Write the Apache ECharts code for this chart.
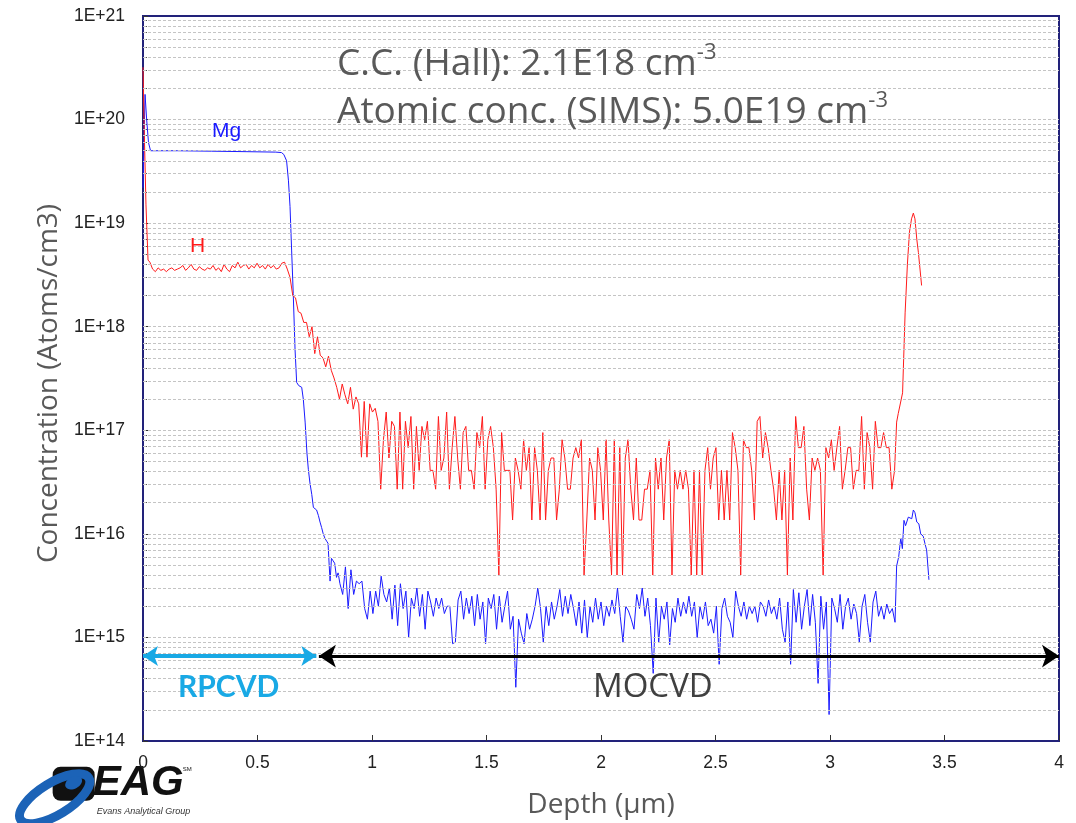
<!DOCTYPE html>
<html lang="en">

<head>
  <meta charset="UTF-8">
  <title>SIMS depth profile</title>
  <style>
    body {
      margin: 0;
      background: #fff;
    }

    #chart {
      width: 1076px;
      height: 823px;
    }
  </style>
</head>

<body>
  <div id="chart"></div>
</body>
<script src="https://cdn.jsdelivr.net/npm/echarts@6/dist/echarts.min.js"></script>
<script>
  // sampling step of the profile (um)
  var STEP = 0.012

  // ---- Mg ----
  // surface spike, plateau and fall-off, [depth um, atoms/cm3]
  var mgHead = [
    [0, 2.2e19], [0.009, 1.75e20], [0.016, 1.0e20], [0.024, 6e19], [0.033, 5.0e19],
    [0.15, 5.0e19], [0.3, 4.95e19], [0.45, 4.9e19], [0.58, 4.85e19], [0.605, 4.8e19],
    [0.615, 4.6e19], [0.627, 4.0e19], [0.635, 2.6e19], [0.642, 1.45e19], [0.649, 5.5e18],
    [0.656, 2.1e18], [0.664, 6e17], [0.671, 2.9e17], [0.680, 2.7e17], [0.693, 2.6e17],
    [0.700, 2.0e17], [0.708, 1.2e17], [0.716, 6e16], [0.722, 4.2e16], [0.729, 3.1e16],
    [0.737, 2.4e16], [0.744, 1.8e16], [0.751, 1.75e16], [0.758, 1.7e16], [0.766, 1.5e16],
    [0.773, 1.3e16], [0.780, 1.15e16], [0.787, 1.0e16], [0.795, 9e15], [0.802, 8.5e15],
    [0.808, 8.1e15], [0.813, 5e15], [0.817, 3.5e15], [0.823, 5.8e15], [0.830, 5.5e15],
    [0.837, 5.2e15], [0.845, 3.8e15], [0.852, 4.2e15]
  ]
  // background noise from 0.86 um, one value per STEP, in 1E15 atoms/cm3
  var mgNoiseStart = 0.86
  var mgNoise = [
    3.3, 2.6, 4.8, 1.9, 4.5, 2.6, 3.5, 3.3, 3.5, 1.9,
    1.5, 2.8, 1.7, 2.8, 2.0, 3.9, 2.6, 2.2, 3.0, 1.5,
    3.2, 1.3, 3.3, 1.9, 2.8, 1.0, 2.4, 1.9, 3.0, 1.6,
    2.6, 1.2, 2.8, 2.2, 1.6, 2.4, 1.9, 2.4, 1.7, 2.0,
    2.0, 0.87, 0.9, 2.3, 2.8, 1.5, 2.4, 1.7, 2.5, 1.3,
    2.6, 1.5, 2.2, 0.87, 2.4, 1.9, 2.6, 1.2, 2.5, 1.4,
    2.0, 2.8, 1.2, 1.6, 0.33, 1.5, 1.1, 0.87, 1.7, 1.2,
    1.5, 2.0, 3.0, 1.9, 0.9, 2.0, 1.3, 2.2, 1.5, 2.0,
    2.9, 1.6, 2.5, 1.7, 2.6, 1.9, 1.3, 2.2, 1.1, 2.3,
    1.0, 2.0, 1.4, 2.4, 1.5, 2.2, 1.3, 2.0, 1.6, 2.3,
    1.7, 3.0, 1.6, 0.9, 2.0, 1.8, 1.5, 1.2, 2.6, 1.9,
    3.0, 1.6, 2.4, 1.3, 0.45, 2.4, 0.9, 2.0, 1.5, 2.2,
    0.85, 1.9, 1.4, 2.4, 1.6, 2.2, 1.7, 2.5, 1.6, 2.2,
    1.0, 2.0, 1.5, 2.2, 1.3, 1.5, 1.1, 2.0, 0.55, 1.9,
    2.4, 1.6, 1.4, 1.0, 2.8, 2.0, 1.6, 2.2, 1.5, 2.0,
    1.7, 2.0, 1.4, 2.2, 2.0, 1.6, 2.3, 1.7, 2.0, 1.5,
    2.4, 1.2, 0.9, 2.2, 0.55, 2.9, 1.4, 2.7, 1.2, 2.0,
    2.9, 1.3, 2.6, 1.4, 0.36, 2.5, 1.2, 2.2, 0.18, 2.4,
    1.9, 1.4, 2.6, 1.2, 2.0, 2.4, 1.5, 2.1, 1.7, 0.9,
    2.0, 2.6, 1.4, 0.9, 2.2, 2.8, 1.6, 2.0, 1.5, 2.1,
    1.7, 1.9
  ]
  // interface pile-up at the end
  var mgTail = [
    [3.284, 1.4e15], [3.291, 4.9e15], [3.300, 6e15], [3.309, 9.1e15], [3.316, 7.2e15],
    [3.323, 1.35e16], [3.330, 1.2e16], [3.342, 1.45e16], [3.350, 1.5e16], [3.357, 1.4e16],
    [3.364, 1.7e16], [3.371, 1.6e16], [3.379, 1.3e16], [3.388, 1.25e16], [3.396, 1.0e16],
    [3.407, 9.5e15], [3.415, 8e15], [3.422, 7e15], [3.428, 7.2e15], [3.432, 3.6e15]
  ]

  // ---- H ----
  var hHead = [[0, 3.2e20], [0.006, 7e19], [0.013, 1.5e19], [0.022, 4.4e18]]
  // plateau from 0.03 um, in 1E18 atoms/cm3
  var hPlateauStart = 0.03
  var hPlateau = [
    4.2, 3.6, 3.4, 3.7, 3.5, 3.6, 3.4, 3.6, 3.7, 3.5,
    3.6, 3.7, 3.9, 3.5, 3.7, 4.0, 3.6, 3.5, 3.8, 3.6,
    3.5, 3.7, 3.6, 3.9, 3.5, 3.7, 3.4, 4.0, 3.6, 3.4,
    3.9, 3.7, 4.2, 3.7, 3.9, 4.0, 3.6, 3.9, 3.7, 4.1,
    3.7, 3.9, 3.6, 4.0, 3.7, 3.9, 3.6, 3.7, 4.1, 4.2
  ]
  // fall-off from 0.63 um
  var hDeclineStart = 0.63
  var hDecline = [
    3.6e18, 3.0e18, 2.0e18, 1.9e18, 1.4e18, 1.35e18, 1.1e18, 1.1e18, 8e17, 1.0e18,
    5.5e17, 8e17, 5.3e17, 5.0e17, 4.1e17, 5.2e17, 3.8e17, 3.2e17, 2.6e17, 2.0e17,
    2.8e17, 2.2e17, 1.8e17, 2.6e17, 1.6e17, 2.1e17, 1.8e17, 5.5e16, 1.9e17, 5.5e16,
    1.8e17
  ]
  // background from 1.002 um, in 1E16 atoms/cm3
  var hNoiseStart = 1.002
  var hNoise = [
    15, 16.3, 12.2, 2.7, 8.1, 15, 5.4, 12.2, 10.9, 2.7,
    15, 2.7, 12.2, 6.8, 13.6, 2.7, 10.9, 4.1, 10.9, 8.1,
    12.2, 4.1, 4.1, 2.7, 13.6, 4.1, 5.4, 15, 2.7, 6.8,
    13.6, 5.4, 2.7, 9.5, 10.9, 4.1, 4.1, 2.7, 9.5, 6.8,
    13.6, 2.7, 8.1, 10.9, 6.8, 2.7, 0.4, 9.5, 4.1, 4.1,
    4.1, 1.36, 5.4, 4.1, 2.7, 8.1, 4.1, 6.8, 1.36, 6.8,
    4.1, 1.36, 9.5, 1.36, 4.1, 5.4, 5.4, 1.36, 2.7, 8.1,
    5.4, 2.7, 2.7, 5.4, 6.8, 5.4, 8.1, 0.4, 1.36, 5.4,
    4.1, 1.36, 6.8, 4.1, 1.36, 8.1, 1.36, 0.4, 8.1, 0.4,
    6.8, 0.4, 5.4, 8.1, 2.7, 1.36, 5.4, 1.36, 1.36, 2.7,
    2.7, 4.1, 0.4, 5.4, 2.7, 5.4, 1.36, 5.4, 8.1, 0.4,
    4.1, 2.7, 4.1, 2.7, 4.1, 2.7, 0.4, 4.1, 0.4, 4.1,
    0.4, 4.1, 6.8, 2.7, 5.4, 6.8, 1.36, 4.1, 1.36, 4.1,
    1.36, 9.5, 6.8, 4.1, 0.4, 8.1, 6.8, 6.8, 4.1, 1.36,
    12.2, 13.6, 5.4, 9.5, 6.8, 4.1, 2.7, 1.36, 4.1, 1.36,
    4.1, 0.4, 5.4, 1.36, 13.6, 6.8, 6.8, 10.9, 2.7, 1.36,
    5.4, 4.1, 5.4, 4.1, 0.4, 6.8, 5.4, 8.1, 4.1, 6.8,
    10.9, 2.7, 4.1, 6.8, 6.8, 2.7, 4.1, 4.1, 13.6, 2.7,
    9.5, 6.8, 2.7, 12.2, 6.8, 6.8, 9.5, 6.8, 6.8, 2.7,
    4.1
  ]
  var hTail = [
    [3.291, 1.2e17], [3.298, 1.45e17], [3.317, 2.3e17], [3.328, 1.36e18], [3.338, 4e18],
    [3.347, 8.2e18], [3.356, 1.1e19], [3.364, 1.25e19], [3.371, 1.1e19], [3.379, 7e18],
    [3.386, 5.2e18], [3.400, 2.5e18]
  ]

  // layer annotations
  var arrowLevel = 6.6e14
  var rpcvdRange = [0, 0.757]
  var mocvdRange = [0.768, 4]

  var yDecades = [14, 15, 16, 17, 18, 19, 20]

  function onGrid(start, values, unit) {
    return values.map(function (v, i) {
      return [Number((start + i * STEP).toFixed(3)), v * unit]
    })
  }

  var mgData = mgHead.concat(onGrid(mgNoiseStart, mgNoise, 1e15), mgTail)
  var hData = hHead.concat(
    onGrid(hPlateauStart, hPlateau, 1e18),
    onGrid(hDeclineStart, hDecline, 1),
    onGrid(hNoiseStart, hNoise, 1e16),
    hTail
  )

  // log grid lines 1..9 x 10^n
  var gridLines = []
  yDecades.forEach(function (e) {
    for (var m = 1; m <= 9; m++) {
      if (m === 1 && e === 14) continue
      gridLines.push({ yAxis: m * Math.pow(10, e) })
    }
  })

  var chart = echarts.init(document.getElementById('chart'))
  var labelFont = 'Liberation Sans, Arial, sans-serif'
  var titleFont = 'Open Sans, sans-serif'
  var navy = '#22227a'
  var grey = '#595959'

  function noteText(left, top, main) {
    return {
      type: 'text', left: left, top: top, z: 10,
      style: {
        text: '{a|' + main + '}{s|-3}',
        rich: {
          a: { fontFamily: titleFont, fontSize: 37, fill: grey, lineHeight: 44 },
          s: { fontFamily: titleFont, fontSize: 22, fill: grey, verticalAlign: 'top' }
        }
      }
    }
  }

  var option = {
    animation: false,
    grid: {
      left: 143, right: 17, top: 16, bottom: 82,
      show: true, borderColor: navy, borderWidth: 2,
      outerBoundsMode: 'none'
    },
    xAxis: {
      type: 'value',
      min: 0, max: 4, interval: 0.5,
      name: 'Depth (µm)',
      nameLocation: 'middle',
      nameGap: 50,
      nameTextStyle: { fontFamily: titleFont, fontSize: 28, color: grey },
      axisLine: { lineStyle: { color: navy, width: 2 } },
      axisTick: { inside: true, length: 6, lineStyle: { color: '#333' } },
      axisLabel: { margin: 13, fontFamily: labelFont, fontSize: 17.5, color: '#222' },
      splitLine: { show: false }
    },
    yAxis: {
      type: 'log',
      logBase: 10,
      min: 1e14, max: 1e21,
      name: 'Concentration (Atoms/cm3)',
      nameLocation: 'middle',
      nameGap: 78,
      nameTextStyle: { fontFamily: titleFont, fontSize: 28, color: grey, padding: [0, 10, 0, 0] },
      axisLine: { show: true, lineStyle: { color: navy, width: 2 } },
      axisTick: { inside: true, length: 5, lineStyle: { color: '#333' } },
      minorTick: { show: true, splitNumber: 9, length: 4, lineStyle: { color: '#555' } },
      axisLabel: {
        margin: 18, fontFamily: labelFont, fontSize: 17.5, color: '#222',
        formatter: function (v) {
          return '1E+' + Math.round(Math.log10(v))
        }
      },
      splitLine: { show: false }
    },
    series: [
      {
        name: 'grid',
        type: 'line',
        data: [],
        silent: true,
        z: 1,
        markLine: {
          silent: true,
          symbol: 'none',
          label: { show: false },
          lineStyle: { color: '#c4c4c4', type: [3, 2], width: 1 },
          data: gridLines
        }
      },
      {
        name: 'Mg',
        type: 'line',
        data: mgData,
        showSymbol: false,
        color: '#1a1aff',
        lineStyle: { width: 1 },
        z: 3
      },
      {
        name: 'H',
        type: 'line',
        data: hData,
        showSymbol: false,
        color: '#ff1a1a',
        lineStyle: { width: 1 },
        z: 4
      },
      {
        name: 'layers',
        type: 'line',
        data: [],
        z: 5,
        markLine: {
          silent: true,
          label: { show: false },
          symbol: ['arrow', 'arrow'],
          data: [
            [
              { coord: [rpcvdRange[0], arrowLevel], symbolSize: [15, 15], lineStyle: { color: '#19a9e5', width: 4, type: 'solid' } },
              { coord: [rpcvdRange[1], arrowLevel], symbolSize: [15, 15] }
            ],
            [
              { coord: [mocvdRange[0], arrowLevel], symbolSize: [17, 17], lineStyle: { color: '#000', width: 3, type: 'solid' } },
              { coord: [mocvdRange[1], arrowLevel], symbolSize: [17, 17] }
            ]
          ]
        }
      }
    ],
    graphic: [
      noteText(337, 42, 'C.C. (Hall): 2.1E18 cm'),
      noteText(337, 90, 'Atomic conc. (SIMS): 5.0E19 cm'),
      {
        type: 'text', left: 212, top: 121, z: 10,
        style: { text: 'Mg', fontFamily: labelFont, fontSize: 21, fill: '#1a1aff' }
      },
      {
        type: 'text', left: 190, top: 236, z: 10,
        style: { text: 'H', fontFamily: labelFont, fontSize: 21, fill: '#ff1a1a' }
      },
      {
        type: 'text', left: 178, top: 672, z: 10,
        style: { text: 'RPCVD', fontFamily: 'Lato, Open Sans, sans-serif', fontWeight: 'bold', fontSize: 30, fill: '#19a9e5' }
      },
      {
        type: 'text', left: 593, top: 671, z: 10,
        style: { text: 'MOCVD', fontFamily: titleFont, fontSize: 33, fill: '#404040' }
      },
      // EAG logo
      {
        type: 'group', left: 6, top: 758, z: 20,
        children: [
          {
            type: 'rect', shape: { x: 36, y: 6, width: 42, height: 34, r: 8 },
            style: { fill: '#111' }
          },
          {
            type: 'ellipse', shape: { cx: 38, cy: 38, rx: 40, ry: 16 }, rotation: 0.55, originX: 38, originY: 38,
            style: { fill: 'none', stroke: '#1c63b7', lineWidth: 9 }
          },
          {
            type: 'ellipse', shape: { cx: 57, cy: 22, rx: 9, ry: 6 }, rotation: 0.5, originX: 57, originY: 22,
            style: { fill: '#1c63b7' }
          },
          {
            type: 'text', x: 76, y: 2,
            style: { text: 'EAG', fontFamily: labelFont, fontStyle: 'italic', fontWeight: 'bold', fontSize: 42, fill: '#111' }
          },
          {
            type: 'text', x: 166, y: 6,
            style: { text: 'SM', fontFamily: labelFont, fontSize: 6, fill: '#111' }
          },
          {
            type: 'text', x: 80, y: 46,
            style: { text: 'Evans Analytical Group', fontFamily: labelFont, fontStyle: 'italic', fontSize: 9, fill: '#333' }
          }
        ]
      }
    ]
  }

  chart.setOption(option)
</script>

</html>
